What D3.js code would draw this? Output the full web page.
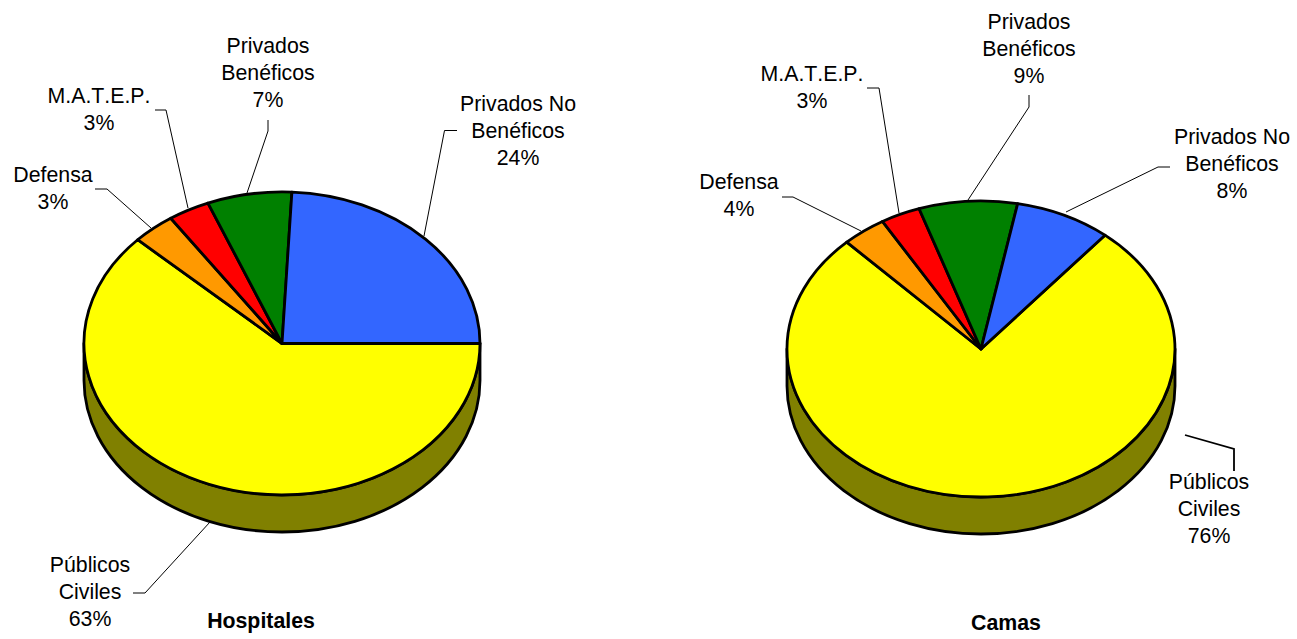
<!DOCTYPE html>
<html><head><meta charset="utf-8">
<script src="https://cdnjs.cloudflare.com/ajax/libs/d3/7.8.5/d3.min.js"></script>
<style>html,body{margin:0;padding:0;background:#fff}svg{display:block}
text{font-family:"Liberation Sans",Arial,sans-serif;fill:#000;font-kerning:none}</style></head>
<body><svg id="c" width="1297" height="639"></svg>
<script>
// Data
const categories = ["Públicos Civiles","Defensa","M.A.T.E.P.","Privados Benéficos","Privados No Benéficos"];
const colors = ["#FFFF00","#FF9900","#FF0000","#008000","#3366FF"];
// Slice shares
const hospitalesValues = [62.0,3.5,3.4,6.9,24.2];
const camasValues = [76.8,3.7,3.3,8.2,8.0];
// Printed labels
const hospitalesLabels = ["63%","3%","3%","7%","24%"];
const camasLabels = ["76%","4%","3%","9%","8%"];
const labelLines = [["Públicos","Civiles"],["Defensa"],["M.A.T.E.P."],["Privados","Benéficos"],["Privados No","Benéficos"]];

// Layout
const layouts = [
 {title:"Hospitales", tx:261, ty:628, cx:282, cy:343.5, rx:198, ry:151.5, depth:37, startDeg:90,
  values:hospitalesValues, labels:hospitalesLabels,
  anchors:[[90,572],[53,182],[99,103],[268,53],[518,111]],
  leaders:[[[133,593],[145,593],[210,522]],[[95,189],[107,189],[151,228]],[[155,110],[166,110],[188,208]],[[268,120],[268,131],[247,193]],[[457,130.5],[444.5,130.5],[424,236]]]},
 {title:"Camas", tx:1006, ty:630, cx:981, cy:349, rx:194, ry:148, depth:37, startDeg:39.7,
  values:camasValues, labels:camasLabels,
  anchors:[[1209,489],[739,189],[812,81],[1029,29],[1232,144]],
  leaders:[[[1185,435],[1234,449],[1234,471]],[[782,197],[793,197],[861,231]],[[867,88],[879,88],[899,213]],[[1029,95],[1029,107],[968,200]],[[1170,167],[1158,167],[1066,212]]]}
];
const fontSize = 21.3, lineH = 27, strokeW = 2.8;
const svg = d3.select("#c");
const arc = d3.arc().innerRadius(0).outerRadius(1);
const line = d3.line();

layouts.forEach((L,li)=>{
  const g = svg.append("g");
  const a0 = L.startDeg*Math.PI/180;
  const pie = d3.pie().sort(null).startAngle(a0).endAngle(a0+2*Math.PI);
  const rim = `M${L.cx-L.rx},${L.cy}L${L.cx-L.rx},${L.cy+L.depth}A${L.rx},${L.ry} 0 0 0 ${L.cx+L.rx},${L.cy+L.depth}L${L.cx+L.rx},${L.cy}A${L.rx},${L.ry} 0 0 1 ${L.cx-L.rx},${L.cy}Z`;
  g.append("path").attr("d",rim).attr("fill","#808000").attr("stroke","#000").attr("stroke-width",strokeW).attr("stroke-linejoin","round");
  g.append("g").attr("transform",`translate(${L.cx},${L.cy}) scale(${L.rx},${L.ry})`)
    .selectAll("path").data(pie(L.values)).join("path")
    .attr("d",arc).attr("fill",(d,i)=>colors[i])
    .attr("stroke","#000").attr("stroke-width",strokeW).attr("stroke-linejoin","round")
    .attr("vector-effect","non-scaling-stroke");
  g.selectAll("path.leader").data(L.leaders).join("path").attr("class","leader")
    .attr("d",line).attr("fill","none").attr("stroke","#000")
    .attr("stroke-width",(d,i)=> (li===1 && i===0) ? 1.8 : 1);
  categories.forEach((c,i)=>{
    const lines = labelLines[i].concat(L.labels[i]);
    const t = g.append("text").attr("text-anchor","middle").attr("font-size",fontSize);
    lines.forEach((s,k)=>t.append("tspan").attr("x",L.anchors[i][0]).attr("y",L.anchors[i][1]+k*lineH).text(s));
  });
  g.append("text").attr("x",L.tx).attr("y",L.ty).attr("text-anchor","middle")
    .attr("font-size",fontSize).attr("font-weight","bold").text(L.title);
});
</script></body></html>
